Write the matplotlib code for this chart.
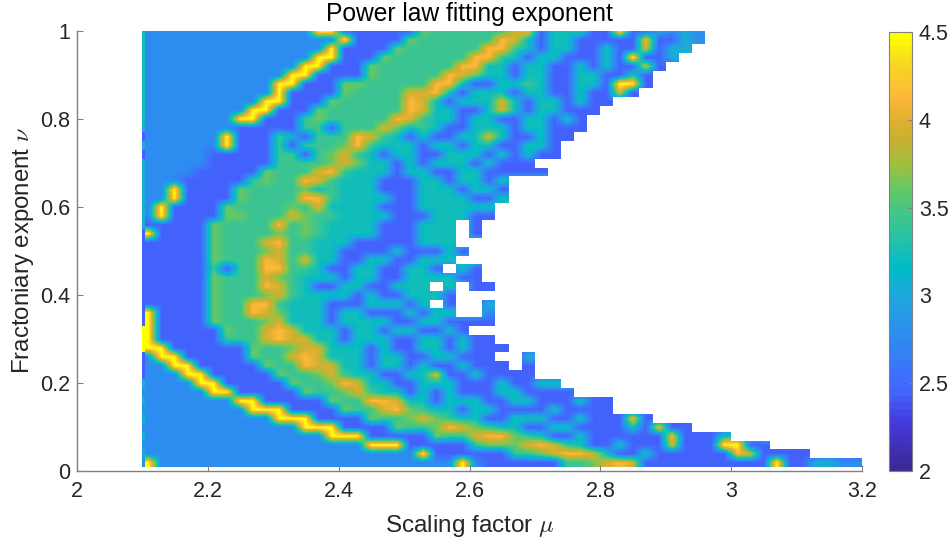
import numpy as np
import matplotlib
matplotlib.use("Agg")
import matplotlib.pyplot as plt
from matplotlib.colors import LinearSegmentedColormap, ListedColormap

plt.rcParams['font.family'] = ['Liberation Sans', 'DejaVu Sans']
plt.rcParams['mathtext.fontset'] = 'cm'

# value of each letter in the rows below, '.' means no data
levels = {'a': 2.45, 'b': 2.75, 'c': 3.05, 'd': 3.22, 'e': 3.42, 'f': 3.62,
          'g': 3.95, 'h': 4.15, 'y': 4.5, '.': np.nan}

# rows from nu = 1.00 down to 0.02, columns from mu = 2.11 to 3.19, both step 0.02
rows = [
    "bbbbbbbbbbbbb yy aaaaaa feeeeee gh addeaa y aacbcb",
    "bbbbbbbbbbbbbbb y aaaa feeeeee hg da dd aa aaa h a ac b",
    "bbbbbbbbbbbbbb y aaaa feeeeee hh e d a dd aa d aa g a cc",
    "bbbbbbbbbbbbb yy aaa feeeeee hh eda ddaa ada y aa c",
    "bbbbbbbbbbbb yy aaa feeeeee hh ddad daad adaa g a",
    "bbbbbbbbbbb yy aaaa feeeee hgf ddadd aadda ada",
    "bbbbbbbbbb yy aaa ffeeeee hh daadd edaad dayya",
    "bbbbbbbbbb y aaaa feeeeg gh dad dda ddaad aaga",
    "bbbbbbbbb yy aaa feeeee hg dadd dgda ddadaa",
    "bbbbbbbb yy aaa feeeeee hg ddaadgdaddaaa",
    "bbbbbbb yy aaa efeeeee hg edda ddaadd ada",
    "bbbbbbb aaaaa eeaeee gf dedaadddaddaaa",
    "bbbbbb y aaa ecaeee hg edadaaddgdaadaa",
    "bbbbbb y aaa eaeee fh edddaddaddaadda",
    "bbbbb aaaaa eeae fg edaddaadddadadaa",
    "bbbbb aaaaa eeee fgf ddadadddadaaa",
    "bbbb aaaaa feee gh edddaddaaddaa aaa",
    "bbb aaaaa efee hg edddaaaddaddad",
    "bb y aaaa feeee f dedddaaadddadda",
    "bb y aaaa feeee hh eddddaaddddaad",
    "b y aaaa feeee f egddddaaadddddd",
    "b y aaaa ffeee gf eeddddaaadddaa",
    "aaaaa feeee h ef eddddaaaddd . a",
    "yaaaa feeee f ef eddddaaaddd . a",
    "aaaaa feee gh eedddaaaaaddd",
    "aaaaa feee fg eeddaaaadaaad a",
    "aaaaa feee hg egddaaddaaddd",
    "aaaaa eaee hh eedaaddaadda . d a",
    "aaaaa feee gf edddaddaaddd d aa",
    "aaaaa feee hg edaaddaaddd . d . aa",
    "aaaaa feee fg eddddadaaddda",
    "aaaaa fee hh edddaaadddad . a .. c",
    "yaaaa fee hg f dddaddaaadadd .. b",
    "yaaaa feee fg dddaddddaaddaaaa",
    "yaaaaa fee gh gdddaddaddaada",
    "yaaaaa eeeg hg gddadddaaddada a",
    "yyaaaaaa fee fg gdddadaaddadaa a",
    "byyaaaaa fee gh gdddaddaaddaa a .. c",
    "bbyyaaaaa fee hg gddaddadaadaaa . a",
    "bbbyyaaaaa fee fg eddaaddgaadaaaa",
    "bbbbyyaaaaa fee fhg ddaadddaaadaadd",
    "bbbbbyyaaaaa fee fg eddadadaaaddaaaa",
    "bbbbbbbyyaaaaa fee hh g ddadddaaddaaadaa",
    "bbbbbbbbyyyaaaa fee gh f eddaddaaaadaaaa",
    "bbbbbbbbbbyyyaaaa fee fg f eddaadddaadaaaha",
    "bbbbbbbbbbbbyyyaaaa fee f hg f eddaaddaaaadahaa",
    "bbbbbbbbbbbbbbyyyaaaaa fee g hh f edaadaaaaaahaaad",
    "bbbbbbbbbbbbbbbbbyyyaaaaa eff f gh g edaadaaagaaayyaa",
    "bbbbbbbbbbbbbbbbbbbbbyaaaaaa eef g hh g d aadaaaaaahgaaaa",
    "ybbbbbbbbbbbbbbbbbbbbbbby baaaaaa eefg hg aaaaaaaaaa y aaccbb",
]

# thin first column at mu = 2.10, same rows
left_edge = "dddddddddddcacaccccccccaaaaaaaaaaayyyaaacbcbcbcbcb"

xticks = [2, 2.2, 2.4, 2.6, 2.8, 3, 3.2]
xticklabels = ['2', '2.2', '2.4', '2.6', '2.8', '3', '3.2']
yticks = [0, 0.2, 0.4, 0.6, 0.8, 1]
yticklabels = ['0', '0.2', '0.4', '0.6', '0.8', '1']
cticks = [2, 2.5, 3, 3.5, 4, 4.5]
cticklabels = ['2', '2.5', '3', '3.5', '4', '4.5']

# colour stops
cstops = [(2.0, '#3b2a98'), (2.25, '#4338d8'), (2.45, '#4466ff'), (2.75, '#2e8cf0'),
          (3.0, '#1fa8dc'), (3.15, '#00bbc8'), (3.4, '#35c49a'), (3.6, '#60c868'),
          (3.75, '#a0c040'), (3.9, '#c8b030'), (4.0, '#dfb030'), (4.15, '#fdb838'),
          (4.35, '#f6dc20'), (4.5, '#ffff00')]
cmap = LinearSegmentedColormap.from_list(
    'bar', [((v - 2) / 2.5, c) for v, c in cstops], N=64)

ncol = 55
Z = np.array([[levels[ch] for ch in r.replace(' ', '').ljust(ncol, '.')[:ncol]] for r in rows])
empty = np.isnan(Z)
# carry the last value along each row so the smoothing does not eat the edge,
# the white blocks on top give the stepped boundary back
filled = Z.copy()
for r in filled:
    for i in range(1, ncol):
        if np.isnan(r[i]):
            r[i] = r[i - 1]

W, H = 950, 543
fig = plt.figure(figsize=(W / 100, H / 100), dpi=100)
ax = fig.add_axes([77 / W, (H - 471) / H, 785 / W, 440 / H])
im = ax.imshow(filled, extent=[2.10, 3.20, 0.01, 1.01], origin='upper', aspect='auto',
               cmap=cmap, vmin=2, vmax=4.5, interpolation='bilinear')
ax.imshow(np.ma.masked_where(~empty, np.ones_like(Z)), extent=[2.10, 3.20, 0.01, 1.01],
          origin='upper', aspect='auto', cmap=ListedColormap(['white']),
          interpolation='nearest')
edge = np.array([[levels[ch]] for ch in left_edge])
ax.imshow(edge, extent=[2.10, 2.104, 0.01, 1.01], origin='upper', aspect='auto',
          cmap=cmap, vmin=2, vmax=4.5, interpolation='nearest')
ax.set_xlim(2, 3.2)
ax.set_ylim(0, 1)

gray = '#808080'
txt = '#262626'
for s in ['top', 'right']:
    ax.spines[s].set_visible(False)
for s in ['left', 'bottom']:
    ax.spines[s].set_color(gray)
    ax.spines[s].set_linewidth(1.0)
ax.set_xticks(xticks)
ax.set_xticklabels(xticklabels)
ax.set_yticks(yticks)
ax.set_yticklabels(yticklabels)
ax.tick_params(direction='in', length=4, width=0.8, color=gray, labelcolor=txt,
               labelsize=15.5, pad=5)
ax.tick_params(axis='x', pad=7)
ax.set_xlabel(r'Scaling factor $\mu$', fontsize=17.5, color=txt, labelpad=8)
ax.set_ylabel(r'Fractoniary exponent $\nu$', fontsize=17.3, color=txt, labelpad=3)
ax.set_title('Power law fitting exponent', fontsize=17.7, color='black', pad=7)

cax = fig.add_axes([889 / W, (H - 471) / H, 23 / W, 439 / H])
cb = fig.colorbar(im, cax=cax)
cb.set_ticks(cticks)
cb.set_ticklabels(cticklabels)
cb.outline.set_edgecolor(gray)
cb.outline.set_linewidth(0.8)
cax.tick_params(direction='in', length=3, width=0.8, color=gray, labelcolor=txt,
                labelsize=15.5, pad=5)

fig.savefig('out.png', dpi=100)
